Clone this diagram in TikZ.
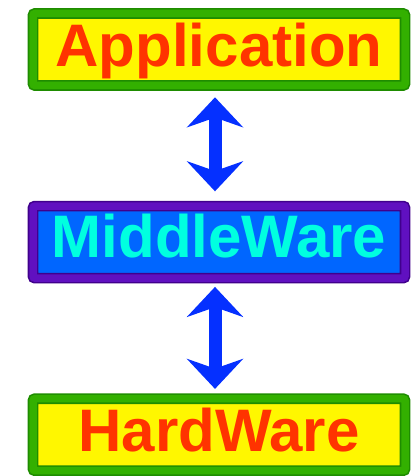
\documentclass[tikz,border=0pt]{standalone}
\usepackage{fontspec}
\setmainfont{Liberation Sans}
\usepackage{tikz}
\usetikzlibrary{arrows.meta, positioning}
\definecolor{Leaf}  {HTML}{1E8C00}
\definecolor{Lime}  {HTML}{33B000}
\definecolor{Lemon} {HTML}{FFF700}
\definecolor{Flame} {HTML}{FF3300}
\definecolor{Grape} {HTML}{40008C}
\definecolor{Violet}{HTML}{6010C0}
\definecolor{Azure} {HTML}{0066FF}
\definecolor{Aqua}  {HTML}{00FFE0}
\definecolor{Royal} {HTML}{0530FF}
\tikzset{
  blk/.style={draw, double, line width=1.6pt, double distance=7.5pt, rounded corners=2pt,
              minimum width=372pt, minimum height=72pt, inner sep=0pt,
              font=\fontsize{60}{60}\selectfont\bfseries,
              text height=34pt, text depth=0pt},
  arr/.style={{Stealth[length=30pt,width=56pt]}-{Stealth[length=30pt,width=56pt]},
              line width=13pt, color=Royal}
}

\begin{document}
\begin{tikzpicture}[x=1pt,y=1pt]
  \useasboundingbox (0,0) rectangle (414,-476);
  \node[blk,draw=Leaf,double=Lime,fill=Lemon,text=Flame] (app) at (219,-49.5) {Application};
  \node[blk,draw=Grape,double=Violet,fill=Azure,text=Aqua, text height=30pt, below=119pt of app] (mid) {MiddleWare};
  \node[blk,draw=Leaf,double=Lime,fill=Lemon,text=Flame, below=119pt of mid] (hw) {HardWare};
  \draw[arr,shorten <=11pt,shorten >=14pt]([xshift=-4pt]app.south)--([xshift=-4pt]mid.north);
  \draw[arr,shorten <=8pt,shorten >=9pt]([xshift=-4pt]mid.south)--([xshift=-4pt]hw.north);
\end{tikzpicture}
\end{document}
